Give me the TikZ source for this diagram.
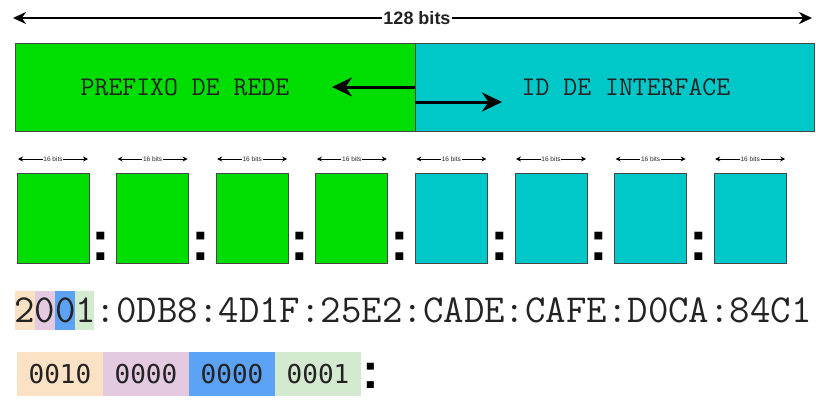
\documentclass[tikz,border=0pt]{standalone}
\usepackage{fontspec}
\setmainfont{Liberation Sans}
\newfontfamily\binfont{DejaVu Sans Mono}
\usetikzlibrary{arrows.meta}
\definecolor{GreenNet}{RGB}{0, 221, 0}
\definecolor{CyanHost}{RGB}{0, 200, 200}
\definecolor{EdgeGray}{RGB}{70, 70, 70}
\definecolor{InkDark}{RGB}{35, 35, 35}
\definecolor{PeachBg}{RGB}{252, 226, 196}
\definecolor{MauveBg}{RGB}{228, 202, 224}
\definecolor{SkyBg}{RGB}{92, 162, 245}
\definecolor{MintBg}{RGB}{212, 234, 208}

\begin{document}
\begin{tikzpicture}[x=1pt, y=-1pt,
        half/.style={draw=EdgeGray, line width=0.8pt, minimum width=400pt, minimum height=88pt, inner sep=0pt},
        seg/.style={draw=EdgeGray, line width=0.8pt, minimum width=72pt, minimum height=90pt, inner sep=0pt},
        nib/.style={minimum width=86pt, minimum height=44pt, inner sep=0pt, text=InkDark, font=\binfont\fontsize{26}{28}\selectfont},
        bartxt/.style={text=InkDark, font=\ttfamily\fontsize{27}{29}\selectfont},
        sepcol/.style={anchor=base, inner sep=0pt, text=black, font=\bfseries\fontsize{56}{58}\selectfont},
        arr/.style={-{Stealth[length=13pt, width=12pt]}, line width=2.2pt, color=black},
        bigarr/.style={-{Stealth[length=20pt, width=19pt]}, line width=3pt, color=black},
        tinyarr/.style={-{Stealth[length=5pt, width=5pt]}, line width=0.9pt, color=black}]

        \useasboundingbox (0,0) rectangle (816,399);

        % 128 bits
        \node[fill=white, inner sep=1pt, text=InkDark, font=\bfseries\fontsize{18}{20}\selectfont] (t128) at (417,18) {128 bits};
        \coordinate (l128) at (13,18);
        \coordinate (r128) at (812,18);
        \draw[arr] (t128) -- (l128);
        \draw[arr] (t128) -- (r128);

        % prefix / interface
        \node[half, fill=GreenNet] (pref) at (215,87) {};
        \node[half, fill=CyanHost, minimum width=399pt] (iid) at (614.5,87) {};
        \node[bartxt] (ptxt) at (185,87) {PREFIXO DE REDE};
        \node[bartxt] (itxt) at (626,87) {ID DE INTERFACE};
        \coordinate (ltip) at (332,87);
        \coordinate (rtip) at (502,102);
        \draw[bigarr] (pref.east) -- (ltip);
        \draw[bigarr] ([yshift=-15pt]iid.west) -- (rtip);

        % 16-bit groups
        \foreach \i/\c in {0/GreenNet,1/GreenNet,2/GreenNet,3/GreenNet,4/CyanHost,5/CyanHost,6/CyanHost,7/CyanHost}{
          \node[seg, fill=\c] (seg\i) at ({53+99.6*\i},218) {};
          \node[fill=white, inner sep=0.6pt, text=InkDark, font=\fontsize{6.5}{7}\selectfont] (w\i) at ({53+99.6*\i},159) {16 bits};
          \coordinate (wl\i) at ({18+99.6*\i},159);
          \coordinate (wr\i) at ({88+99.6*\i},159);
          \draw[tinyarr] (w\i) -- (wl\i);
          \draw[tinyarr] (w\i) -- (wr\i);
        }
        \foreach \j in {0,...,6}
          \node[sepcol] (sep\j) at ({101+99.6*\j},260) {:};

        % hexadecimal address
        \fill[PeachBg] (15,291) rectangle (35,330);
        \fill[MauveBg] (35,291) rectangle (55,330);
        \fill[SkyBg] (55,291) rectangle (75,330);
        \fill[MintBg] (75,291) rectangle (94,330);
        \node[anchor=base west, inner sep=0pt, text=InkDark, font=\ttfamily\fontsize{39.7}{42}\selectfont] (hex) at (14,322) {2001:0DB8:4D1F:25E2:CADE:CAFE:D0CA:84C1};

        % binary of the first group
        \node[nib, fill=PeachBg] (b1) at (60,374) {0010};
        \node[nib, fill=MauveBg] (b2) at (146,374) {0000};
        \node[nib, fill=SkyBg] (b3) at (232,374) {0000};
        \node[nib, fill=MintBg] (b4) at (318,374) {0001};
        \node[sepcol, font=\bfseries\fontsize{50}{52}\selectfont] (bsep) at (371,388) {:};
      \end{tikzpicture}
\end{document}
